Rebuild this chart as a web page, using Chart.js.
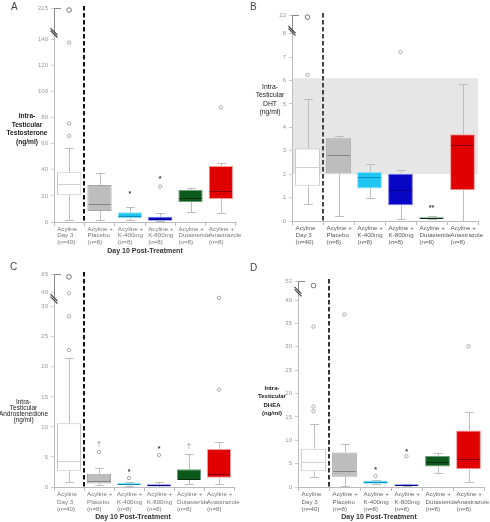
<!DOCTYPE html>
<html lang="en">
<head>
<meta charset="UTF-8" />
<title>Intra-testicular steroids after acyline</title>
<script src="https://cdn.jsdelivr.net/npm/chart.js"></script>
<style>
  body { margin: 0; background: #fff; font-family: Arial, "Liberation Sans", sans-serif; }
  #fig { position: relative; width: 490px; height: 522px; overflow: hidden; }
  .panel { position: absolute; width: 245px; }
  .letter { position: absolute; font-size: 10px; color: #444; }
  .ytitle { position: absolute; text-align: center; color: #222; white-space: nowrap; transform: translateX(-50%); }
  .xtitle { position: absolute; font-size: 7px; font-weight: bold; color: #333; white-space: nowrap; transform: translate(-50%, -50%); }
</style>
</head>
<body>
<div id="fig">
  <div class="panel" style="left:0;top:0;height:260px"><canvas id="chartA" width="245" height="260"></canvas></div>
  <div class="panel" style="left:245px;top:0;height:260px"><canvas id="chartB" width="245" height="260"></canvas></div>
  <div class="panel" style="left:0;top:260px;height:262px"><canvas id="chartC" width="245" height="262"></canvas></div>
  <div class="panel" style="left:245px;top:260px;height:262px"><canvas id="chartD" width="245" height="262"></canvas></div>

  <div class="letter" style="left:11px;top:1px">A</div>
  <div class="letter" style="left:250px;top:1px">B</div>
  <div class="letter" style="left:10px;top:261px">C</div>
  <div class="letter" style="left:250px;top:262px">D</div>

  <div class="ytitle" style="left:27px;top:112px;font-size:6.6px;font-weight:bold;line-height:8.5px">Intra-<br>Testicular<br>Testosterone<br>(ng/ml)</div>
  <div class="ytitle" style="left:270px;top:83px;font-size:6.8px;line-height:8.3px">Intra-<br>Testicular<br>DHT<br>(ng/ml)</div>
  <div class="ytitle" style="left:23.5px;top:399px;font-size:6.5px;line-height:6px">Intra-<br>Testicular<br>Androstenedione<br>(ng/ml)</div>
  <div class="ytitle" style="left:272px;top:384px;font-size:6px;font-weight:bold;line-height:8.3px">Intra-<br>Testicular<br>DHEA<br>(ng/ml)</div>

  <div class="xtitle" style="left:145px;top:250px">Day 10 Post-Treatment</div>
  <div class="xtitle" style="left:133px;top:516px">Day 10 Post-Treatment</div>
  <div class="xtitle" style="left:379px;top:516px">Day 10 Post-Treatment</div>
</div>

<script>
  // groups on the x axis
  const groups = [
    ['Acyline', 'Day 3', '(n=40)'],
    ['Acyline +', 'Placebo', '(n=8)'],
    ['Acyline +', 'K-400mg', '(n=8)'],
    ['Acyline +', 'K-800mg', '(n=8)'],
    ['Acyline +', 'Dutasteride', '(n=8)'],
    ['Acyline +', 'Anastrazole', '(n=8)']
  ];

  // A: testosterone
  const testoMin = [1.3, 1.3, 1.2, 0.5, 7.4, 6.6];
  const testoQ1 = [20.5, 8.4, 2.9, 1.0, 15.3, 17.6];
  const testoMed = [29.5, 13.9, 4.7, 2.5, 18.6, 23.7];
  const testoQ3 = [38.2, 28.4, 7.5, 4.0, 24.5, 42.9];
  const testoMax = [57, 37.4, 11.3, 6.6, 25.8, 45];
  const testoOut = [[66, 75.5, 137.5, 210], [], [], [27.2], [], [87.8]];
  const testoSig = ['', '', '*', '*', '', ''];
  const testoSigAt = [0, 0, 22.6, 33.8, 0, 0];
  const testoTicks = [0, 20, 40, 60, 80, 100, 120, 140, 215];

  // B: DHT
  const dhtMin = [0.71, 0.21, 1.0, 0.07, 0.07, 0.01];
  const dhtQ1 = [1.51, 2.03, 1.39, 0.67, 0.10, 1.31];
  const dhtMed = [2.29, 2.84, 1.86, 1.31, 0.13, 3.24];
  const dhtQ3 = [3.10, 3.54, 2.09, 2.02, 0.16, 3.71];
  const dhtMax = [5.2, 3.63, 2.43, 2.17, 0.23, 5.86];
  const dhtOut = [[6.24, 20.4], [], [], [7.21], [], []];
  const dhtSig = ['', '', '', '', '**', ''];
  const dhtSigAt = [0, 0, 0, 0, 0.63, 0];
  const dhtTicks = [0, 1, 2, 3, 4, 5, 6, 7, 8, 22];
  const dhtBand = [2.0, 6.1];

  // C: androstenedione
  const androMin = [0.8, 0.3, 0.1, 0.05, 0.45, 0.45];
  const androQ1 = [2.7, 0.6, 0.3, 0.1, 1.17, 1.55];
  const androMed = [4.4, 1.0, 0.5, 0.3, 1.25, 2.17];
  const androQ3 = [10.6, 2.2, 0.7, 0.45, 2.95, 6.33];
  const androMax = [21.4, 3.1, 0.8, 0.8, 5.45, 7.45];
  const androOut = [[22.8, 28.4, 39.1, 61], [5.8], [1.5], [5.3], [], [16.2, 36]];
  const androSig = ['', '\u2020', '*', '*', '\u2020', ''];
  const androSigAt = [0, 7.1, 2.7, 6.5, 6.8, 0];
  const androTicks = [0, 5, 10, 15, 20, 25, 30, 40, 65];

  // D: DHEA
  const dheaMin = [2.2, 0.3, 0.6, 0.2, 3.1, 1.0];
  const dheaQ1 = [3.36, 2.2, 0.72, 0.3, 4.36, 3.8];
  const dheaMed = [5.3, 3.36, 1.07, 0.45, 5.43, 5.9];
  const dheaQ3 = [8.2, 7.37, 1.37, 0.6, 6.64, 12.1];
  const dheaMax = [13.5, 9.3, 1.5, 0.7, 7.3, 16.1];
  const dheaOut = [[16.2, 17.2, 34.3, 49.1], [36.9], [2.3], [6.6], [], [30.1]];
  const dheaSig = ['', '', '*', '*', '', ''];
  const dheaSigAt = [0, 0, 3.9, 7.9, 0, 0];
  const dheaTicks = [0, 5, 10, 15, 20, 25, 30, 35, 40, 52];

  const boxFill = ['#ffffff', '#bdbdbd', '#1ec6f4', '#0606c4', '#0b5a1c', '#e00000'];
  const boxEdge = ['#c4c4c4', '#a6a6a6', '#8fe0fa', '#7373f0', '#6f9a78', '#f29a9a'];
  const medColor = ['#cfcfcf', '#858585', '#0a8fbf', '#00008a', '#032d0d', '#8a0000'];

  // piecewise mapping for the broken y axis: [value, plotted position]
  function brokenAxis(knots) {
    return v => {
      for (let k = 1; k < knots.length; k++) {
        const [v0, p0] = knots[k - 1], [v1, p1] = knots[k];
        if (v <= v1 || k === knots.length - 1) return p0 + (v - v0) * (p1 - p0) / (v1 - v0);
      }
    };
  }

  function boxChart(id, s) {
    const f = s.f;
    const lastRegular = s.ticks[s.ticks.length - 2];
    // one point layer per outlier rank, aligned with the categories
    const layers = Math.max(...s.out.map(a => a.length));
    const outSets = [];
    for (let k = 0; k < layers; k++) {
      const vals = s.out.map(a => (a[k] === undefined ? null : a[k]));
      outSets.push({
        type: 'line',
        data: vals.map(v => (v === null ? null : f(v))),
        showLine: false,
        xAxisID: 'x',
        yAxisID: 'y',
        pointRadius: vals.map(v => (v !== null && v > lastRegular ? 2.3 : 1.7)),
        pointBorderColor: vals.map(v => (v !== null && v > lastRegular ? '#666' : '#a0a0a0')),
        pointBackgroundColor: '#fff',
        pointBorderWidth: 0.9,
        clip: false
      });
    }

    const plugin = {
      id: 'boxes',
      beforeDatasetsDraw(chart) {
        const { ctx, chartArea: a, scales: { y } } = chart;
        const bars = chart.getDatasetMeta(0).data;
        ctx.save();
        if (s.band) {
          const y1 = y.getPixelForValue(s.band[1]), y0 = y.getPixelForValue(s.band[0]);
          ctx.fillStyle = '#e6e6e6';
          ctx.fillRect(a.left + 1, y1, a.right - a.left - 1, y0 - y1);
        }
        ctx.strokeStyle = '#bdbdbd';
        ctx.lineWidth = 1;
        bars.forEach((b, i) => {
          const x = Math.round(b.x) + 0.5, cap = b.width * 0.18;
          [[s.max[i], s.q3[i]], [s.min[i], s.q1[i]]].forEach(([end, edge]) => {
            const ye = Math.round(y.getPixelForValue(f(end))) + 0.5;
            const yb = y.getPixelForValue(f(edge));
            ctx.beginPath();
            ctx.moveTo(x, ye); ctx.lineTo(x, yb);
            ctx.moveTo(x - cap, ye); ctx.lineTo(x + cap, ye);
            ctx.stroke();
          });
        });
        ctx.restore();
      },
      afterDatasetsDraw(chart) {
        const { ctx, chartArea: a, scales: { y } } = chart;
        const bars = chart.getDatasetMeta(0).data;
        ctx.save();
        // medians
        bars.forEach((b, i) => {
          const ym = Math.round(y.getPixelForValue(f(s.med[i]))) + 0.5;
          ctx.strokeStyle = medColor[i];
          ctx.lineWidth = 1;
          ctx.beginPath();
          ctx.moveTo(b.x - b.width / 2 + 1, ym);
          ctx.lineTo(b.x + b.width / 2 - 1, ym);
          ctx.stroke();
        });
        // significance marks
        ctx.textAlign = 'center';
        ctx.textBaseline = 'middle';
        s.sig.forEach((m, i) => {
          if (!m) return;
          ctx.fillStyle = m === '\u2020' ? '#777' : '#333';
          ctx.font = (m === '\u2020' ? '7px' : 'bold 7px') + ' Arial, "Liberation Sans", sans-serif';
          ctx.fillText(m, bars[i].x, y.getPixelForValue(f(s.sigAt[i])) + (m === '\u2020' ? 0 : 1.5));
        });
        // dashed separator after Day 3
        const xd = Math.round((bars[0].x + bars[1].x) / 2);
        ctx.strokeStyle = s.dashColor;
        ctx.lineWidth = 2;
        ctx.setLineDash([4.5, 2.5]);
        ctx.beginPath();
        ctx.moveTo(xd, a.top - 2);
        ctx.lineTo(xd, a.bottom);
        ctx.stroke();
        ctx.setLineDash([]);
        // top tick bar and axis break
        const yt = Math.round(y.getPixelForValue(y.max)) + 0.5;
        ctx.strokeStyle = '#888';
        ctx.lineWidth = 1;
        ctx.beginPath();
        ctx.moveTo(a.left, yt); ctx.lineTo(a.left + 7, yt);
        ctx.moveTo(a.left + 0.5, yt); ctx.lineTo(a.left + 0.5, y.getPixelForValue(s.breakAt));
        ctx.stroke();
        const yb = y.getPixelForValue(s.breakAt);
        ctx.strokeStyle = '#444';
        ctx.lineWidth = 1.2;
        ctx.beginPath();
        [-1.2, 1.2].forEach(d => {
          ctx.moveTo(a.left - 3.5, yb - 3.5 + d);
          ctx.lineTo(a.left + 3.5, yb + 3.5 + d);
        });
        ctx.stroke();
        ctx.restore();
      }
    };

    return new Chart(document.getElementById(id), {
      type: 'bar',
      data: {
        labels: groups,
        datasets: [
          {
            type: 'bar',
            data: s.q1.map((v, i) => [f(v), f(s.q3[i])]),
            backgroundColor: boxFill,
            borderColor: boxEdge,
            borderWidth: 1,
            borderSkipped: false,
            barPercentage: 0.8,
            categoryPercentage: 1,
            grouped: false,
            xAxisID: 'x',
            yAxisID: 'y'
          },
          ...outSets
        ]
      },
      options: {
        responsive: false,
        animation: false,
        layout: { padding: { left: 0, top: s.top, right: s.right, bottom: 0 } },
        plugins: { legend: { display: false }, tooltip: { enabled: false } },
        scales: {
          x: {
            type: 'category',
            offset: true,
            grid: { offset: true, drawOnChartArea: false, tickLength: 4, color: '#bbb' },
            border: { color: '#bbb' },
            ticks: {
              align: 'start', labelOffset: -12, padding: 0, autoSkip: false, maxRotation: 0,
              color: s.labelColor, font: { family: 'Arial, "Liberation Sans", sans-serif', size: 6.2, lineHeight: s.labelLine }
            },
            afterFit: sc => { sc.height = s.xh; sc.paddingLeft = 0; sc.paddingRight = 0; }
          },
          y: {
            min: 0,
            max: f(s.ticks[s.ticks.length - 1]),
            afterBuildTicks: sc => { sc.ticks = s.ticks.map(v => ({ value: f(v) })); },
            grid: { drawOnChartArea: false, tickLength: 3, color: '#ccc' },
            border: { color: '#bbb' },
            ticks: {
              padding: 3, color: '#999',
              font: { family: 'Arial, "Liberation Sans", sans-serif', size: 6 },
              callback: (v, i) => String(s.ticks[i])
            },
            afterFit: sc => { sc.width = s.left; sc.paddingTop = 0; sc.paddingBottom = 0; }
          }
        }
      },
      plugins: [plugin]
    });
  }

  boxChart('chartA', {
    min: testoMin, q1: testoQ1, med: testoMed, q3: testoQ3, max: testoMax,
    out: testoOut, sig: testoSig, sigAt: testoSigAt, ticks: testoTicks,
    f: brokenAxis([[0, 0], [140, 140], [215, 164]]), breakAt: 145,
    left: 54, top: 8, right: 9, xh: 38, labelColor: '#777', labelLine: 1.05, dashColor: '#111'
  });
  boxChart('chartB', {
    min: dhtMin, q1: dhtQ1, med: dhtMed, q3: dhtQ3, max: dhtMax,
    out: dhtOut, sig: dhtSig, sigAt: dhtSigAt, ticks: dhtTicks, band: dhtBand,
    f: brokenAxis([[0, 0], [8, 8], [22, 8.8]]), breakAt: 8.12,
    left: 47, top: 15, right: 12, xh: 39, labelColor: '#555', labelLine: 1.1, dashColor: '#444'
  });
  boxChart('chartC', {
    min: androMin, q1: androQ1, med: androMed, q3: androQ3, max: androMax,
    out: androOut, sig: androSig, sigAt: androSigAt, ticks: androTicks,
    f: brokenAxis([[0, 0], [30, 30], [40, 32.44], [65, 35.44]]), breakAt: 31.3,
    left: 54, top: 14, right: 11, xh: 35, labelColor: '#777', labelLine: 1.18, dashColor: '#111'
  });
  boxChart('chartD', {
    min: dheaMin, q1: dheaQ1, med: dheaMed, q3: dheaQ3, max: dheaMax,
    out: dheaOut, sig: dheaSig, sigAt: dheaSigAt, ticks: dheaTicks,
    f: brokenAxis([[0, 0], [40, 40], [52, 44.07]]), breakAt: 41.8,
    left: 53, top: 21, right: 6, xh: 35, labelColor: '#666', labelLine: 1.18, dashColor: '#333'
  });
</script>
</body>
</html>
